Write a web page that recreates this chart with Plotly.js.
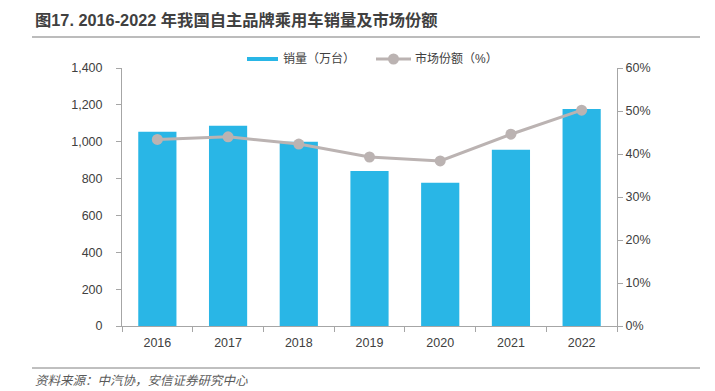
<!DOCTYPE html>
<html><head><meta charset="utf-8">
<script src="https://cdn.plot.ly/plotly-3.0.1.min.js"></script>
<style>html,body{margin:0;padding:0;background:#fff}#c{width:715px;height:391px}</style>
</head><body><div id="c"></div>
<script>
const years = ['2016','2017','2018','2019','2020','2021','2022'];
const sales = [1054, 1087, 1000, 841, 778, 957, 1178];
const share = [43.4, 44.0, 42.3, 39.3, 38.4, 44.6, 50.2];
const leftTicks = [0,200,400,600,800,1000,1200,1400];
const leftLabels = ['0','200','400','600','800','1,000','1,200','1,400'];
const rightTicks = [0,10,20,30,40,50,60];
const rightLabels = ['0%','10%','20%','30%','40%','50%','60%'];
const seriesNames = ['销量（万台）','市场份额（%）'];

const W = 715, H = 391, L = 122, R = 98, T = 68, B = 65;
const pw = W - L - R, ph = H - T - B;
const px = x => (x - L) / pw;
const py = y => (H - B - y) / ph;

const fontMain = 'Liberation Sans, Arial, Noto Sans CJK SC, sans-serif';
const cjk = 'Liberation Sans, Noto Sans CJK SC, sans-serif';
const barColor = '#29B6E6', lineColor = '#BBB3B2';

const traces = [
  {type:'bar', x: years, y: sales, name:seriesNames[0], marker:{color:barColor}, width:0.54, yaxis:'y'},
  {type:'scatter', mode:'lines+markers', x: years, y: share, name:seriesNames[1], yaxis:'y2',
   line:{color:lineColor, width:3}, marker:{color:lineColor, size:11}}
];

const axisCommon = {showline:true, linecolor:'#A6A6A6', linewidth:1, ticks:'outside', ticklen:5,
  tickcolor:'#A6A6A6', showgrid:false, zeroline:false, tickfont:{size:12.5, color:'#404040'}};

const layout = {
  width: W, height: H,
  margin:{l:L, r:R, t:T, b:B},
  paper_bgcolor:'#fff', plot_bgcolor:'#fff',
  font:{family: fontMain, size:12, color:'#404040'},
  showlegend:false,
  bargap:0.46,
  xaxis:Object.assign({}, axisCommon, {type:'category', tickson:'boundaries', ticklabelstandoff:5}),
  yaxis:Object.assign({}, axisCommon, {range:[0,1400], tickmode:'array', tickvals:leftTicks, ticktext:leftLabels,
          ticklabelstandoff:11}),
  yaxis2:Object.assign({}, axisCommon, {range:[0,60], overlaying:'y', side:'right', tickmode:'array',
          tickvals:rightTicks, ticktext:rightLabels}),
  annotations:[
    {xref:'paper', yref:'paper', x: px(33), y: py(20), xanchor:'left', yanchor:'middle', showarrow:false,
     text:'<b>图17. 2016-2022 年我国自主品牌乘用车销量及市场份额</b>', font:{family:cjk, size:16.3, color:'#404040'}},
    {xref:'paper', yref:'paper', x: px(33), y: py(381), xanchor:'left', yanchor:'middle', showarrow:false,
     text:'<i>资料来源：中汽协，安信证券研究中心</i>', font:{family:cjk, size:12.5, color:'#595959'}},
    {xref:'paper', yref:'paper', x: px(281), y: py(59), xanchor:'left', yanchor:'middle', showarrow:false,
     text:seriesNames[0], font:{family:cjk, size:12, color:'#404040'}},
    {xref:'paper', yref:'paper', x: px(413), y: py(59), xanchor:'left', yanchor:'middle', showarrow:false,
     text:seriesNames[1], font:{family:cjk, size:12, color:'#404040'}}
  ],
  shapes:[
    {type:'line', xref:'paper', yref:'paper', x0:px(32), x1:px(700), y0:py(37), y1:py(37), line:{color:'#A6A6A6', width:1.5}},
    {type:'line', xref:'paper', yref:'paper', x0:px(32), x1:px(700), y0:py(368), y1:py(368), line:{color:'#808080', width:1}},
    {type:'rect', xref:'paper', yref:'paper', x0:px(247), x1:px(278), y0:py(57), y1:py(61), fillcolor:barColor, line:{width:0}},
    {type:'line', xref:'paper', yref:'paper', x0:px(376), x1:px(411), y0:py(59), y1:py(59), line:{color:lineColor, width:3}},
    {type:'circle', xref:'paper', yref:'paper', x0:px(388), x1:px(399), y0:py(53.5), y1:py(64.5), fillcolor:lineColor, line:{width:0}}
  ]
};
Plotly.newPlot('c', traces, layout, {displayModeBar:false, staticPlot:true});
</script></body></html>
